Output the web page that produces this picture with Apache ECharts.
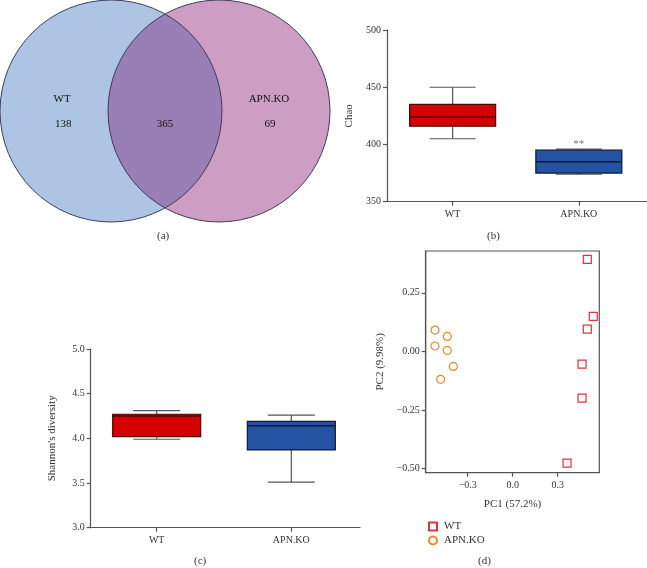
<!DOCTYPE html>
<html><head><meta charset="utf-8">
<script src="https://cdn.jsdelivr.net/npm/echarts@6/dist/echarts.min.js"></script>
<style>html,body{margin:0;padding:0;background:#fff}#c{width:647px;height:568px}</style>
</head><body><div id="c"></div>
<script>
// ---- Data ----
const vennSets = ['WT', 'APN.KO'];
const vennUnique = [138, 69];
const vennShared = 365;

const groups = ['WT', 'APN.KO'];
// [min, Q1, median, Q3, max]
const chaoBox = [[405, 416, 424, 435, 450], [374, 375, 385, 395, 396]];
const chaoSig = ['', '**'];
const chaoTicks = [350, 400, 450, 500];
const shannonBox = [[3.99, 4.02, 4.25, 4.27, 4.31], [3.51, 3.87, 4.14, 4.19, 4.26]];
const shannonTicks = [3.0, 3.5, 4.0, 4.5, 5.0];

const pcaWT = [[0.497, 0.392], [0.537, 0.149], [0.497, 0.095], [0.462, -0.054], [0.462, -0.199], [0.362, -0.476]];
const pcaKO = [[-0.518, 0.091], [-0.436, 0.064], [-0.518, 0.023], [-0.436, 0.004], [-0.396, -0.064], [-0.48, -0.119]];
const pcXTicks = [-0.3, 0, 0.3];
const pcYTicks = [-0.5, -0.25, 0, 0.25];

// ---- Styles ----
const FONT = '"Liberation Serif", "DejaVu Serif", serif';
const AX = '#555';
const boxColors = [
  {fill: '#d50000', stroke: '#4a0808', median: '#5a0000'},
  {fill: '#2453a3', stroke: '#0c1a36', median: '#0c1a36'}
];
const chart = echarts.init(document.getElementById('c'));

function boxRender(boxW, capW, sig) {
  return function (params, api) {
    const i = api.value(0);
    const p = k => api.coord([i, api.value(k)]);
    const pmin = p(1), pq1 = p(2), pmed = p(3), pq3 = p(4), pmax = p(5);
    const cx = pmin[0];
    const c = boxColors[i];
    const ln = {stroke: AX, lineWidth: 1.2};
    const children = [
      {type: 'line', shape: {x1: cx, y1: pq3[1], x2: cx, y2: pmax[1]}, style: ln},
      {type: 'line', shape: {x1: cx, y1: pq1[1], x2: cx, y2: pmin[1]}, style: ln},
      {type: 'line', shape: {x1: cx - capW / 2, y1: pmax[1], x2: cx + capW / 2, y2: pmax[1]}, style: ln},
      {type: 'line', shape: {x1: cx - capW / 2, y1: pmin[1], x2: cx + capW / 2, y2: pmin[1]}, style: ln},
      {type: 'rect', shape: {x: cx - boxW / 2, y: pq3[1], width: boxW, height: pq1[1] - pq3[1]},
        style: {fill: c.fill, stroke: c.stroke, lineWidth: 1.2}},
      {type: 'line', shape: {x1: cx - boxW / 2, y1: pmed[1], x2: cx + boxW / 2, y2: pmed[1]},
        style: {stroke: c.median, lineWidth: 1.5}}
    ];
    if (sig && sig[i]) {
      children.push({type: 'text', style: {text: sig[i], x: cx, y: pmax[1] + 1, textAlign: 'center',
        textVerticalAlign: 'bottom', fill: '#777', font: '11px ' + FONT}});
    }
    return {type: 'group', children};
  };
}

function vennRender(params, api) {
  const cs = params.coordSys;
  const r = cs.height / 2;
  const cy = cs.y + r;
  const cx1 = cs.x + r, cx2 = cs.x + cs.width - r;
  const a = (cx2 - cx1) / 2, mx = (cx1 + cx2) / 2;
  const h = Math.sqrt(r * r - a * a);
  const th = Math.atan2(h, a);
  const pts = [];
  const N = 80;
  for (let k = 0; k <= N; k++) {
    const t = -th + 2 * th * k / N;
    pts.push([cx1 + r * Math.cos(t), cy + r * Math.sin(t)]);
  }
  for (let k = 0; k <= N; k++) {
    const t = Math.PI - th + 2 * th * k / N;
    pts.push([cx2 + r * Math.cos(t), cy + r * Math.sin(t)]);
  }
  const txt = (s, x, y) => ({type: 'text', style: {text: s, x, y, textAlign: 'center', textVerticalAlign: 'middle',
    fill: '#111', font: '11px ' + FONT}});
  return {type: 'group', children: [
    {type: 'circle', shape: {cx: cx1, cy, r}, style: {fill: '#aec4e4'}},
    {type: 'circle', shape: {cx: cx2, cy, r}, style: {fill: '#cd9dc4'}},
    {type: 'polygon', shape: {points: pts}, style: {fill: '#9a7eb6'}},
    {type: 'circle', shape: {cx: cx1, cy, r}, style: {fill: 'none', stroke: '#3c3d5c', lineWidth: 1}},
    {type: 'circle', shape: {cx: cx2, cy, r}, style: {fill: 'none', stroke: '#3c3d5c', lineWidth: 1}},
    txt(vennSets[0], cx1 - 0.44 * r, cy - 12),
    txt(String(vennUnique[0]), cx1 - 0.43 * r, cy + 13),
    txt(String(vennShared), mx, cy + 13),
    txt(vennSets[1], cx2 + 0.45 * r, cy - 12),
    txt(String(vennUnique[1]), cx2 + 0.46 * r, cy + 13)
  ]};
}

const lbl = {color: '#333', fontFamily: FONT, fontSize: 10};
const axLine = {show: true, onZero: false, lineStyle: {color: AX, width: 1.2}};
const axTick = {show: true, length: 4, lineStyle: {color: AX, width: 1.2}};
const minus = s => s.replace('-', '\u2212');

const option = {
  backgroundColor: '#fff',
  animation: false,
  grid: [
    {left: 0, top: 0, width: 330, height: 222},
    {left: 387, top: 30, width: 260, height: 171.7},
    {left: 90.7, top: 349, width: 269.3, height: 178.7},
    {left: 425.7, top: 251, width: 173.6, height: 221.7, show: true, borderColor: AX, borderWidth: 1.2, backgroundColor: 'transparent'}
  ],
  xAxis: [
    {gridIndex: 0, type: 'value', min: 0, max: 1, show: false},
    {gridIndex: 1, type: 'value', min: -0.52, max: 1.54, axisLine: axLine, splitLine: {show: false},
      axisTick: Object.assign({customValues: [0, 1]}, axTick),
      axisLabel: Object.assign({customValues: [0, 1], margin: 8, formatter: v => groups[Math.round(v)]}, lbl)},
    {gridIndex: 2, type: 'value', min: -0.49, max: 1.51, axisLine: axLine, splitLine: {show: false},
      axisTick: Object.assign({customValues: [0, 1]}, axTick),
      axisLabel: Object.assign({customValues: [0, 1], margin: 8, formatter: v => groups[Math.round(v)]}, lbl)},
    {gridIndex: 3, type: 'value', min: -0.58, max: 0.577, axisLine: axLine, splitLine: {show: false},
      axisTick: Object.assign({customValues: pcXTicks}, axTick),
      axisLabel: Object.assign({customValues: pcXTicks, margin: 8, formatter: v => minus(v.toFixed(1))}, lbl),
      name: 'PC1 (57.2%)', nameLocation: 'middle', nameGap: 26, nameTextStyle: {color: '#333', fontFamily: FONT, fontSize: 11}}
  ],
  yAxis: [
    {gridIndex: 0, type: 'value', min: 0, max: 1, show: false},
    {gridIndex: 1, type: 'value', min: chaoTicks[0], max: chaoTicks[chaoTicks.length - 1], interval: 50,
      axisLine: axLine, axisTick: axTick, splitLine: {show: false},
      axisLabel: Object.assign({margin: 6}, lbl),
      name: 'Chao', nameLocation: 'middle', nameGap: 32, nameTextStyle: {color: '#333', fontFamily: FONT, fontSize: 11}},
    {gridIndex: 2, type: 'value', min: shannonTicks[0], max: shannonTicks[shannonTicks.length - 1], interval: 0.5,
      axisLine: axLine, axisTick: axTick, splitLine: {show: false},
      axisLabel: Object.assign({margin: 6, formatter: v => v.toFixed(1)}, lbl),
      name: "Shannon's diversity", nameLocation: 'middle', nameGap: 33, nameTextStyle: {color: '#333', fontFamily: FONT, fontSize: 11}},
    {gridIndex: 3, type: 'value', min: -0.517, max: 0.428, axisLine: axLine, splitLine: {show: false},
      axisTick: Object.assign({customValues: pcYTicks}, axTick),
      axisLabel: Object.assign({customValues: pcYTicks, margin: 6, formatter: v => minus(v.toFixed(2))}, lbl),
      name: 'PC2 (9.98%)', nameLocation: 'middle', nameGap: 40, nameTextStyle: {color: '#333', fontFamily: FONT, fontSize: 11}}
  ],
  legend: {
    data: ['WT', 'APN.KO'], orient: 'vertical', left: 423, top: 516, itemWidth: 8, itemHeight: 8, itemGap: 3,
    textStyle: {color: '#333', fontFamily: FONT, fontSize: 11, padding: [0, 0, 0, 2]}
  },
  series: [
    {type: 'custom', xAxisIndex: 0, yAxisIndex: 0, data: [[0.5, 0.5]], renderItem: vennRender, silent: true},
    {type: 'custom', xAxisIndex: 1, yAxisIndex: 1, encode: {x: 0, y: [1, 2, 3, 4, 5]},
      data: chaoBox.map((b, i) => [i].concat(b)), renderItem: boxRender(86, 46, chaoSig)},
    {type: 'custom', xAxisIndex: 2, yAxisIndex: 2, encode: {x: 0, y: [1, 2, 3, 4, 5]},
      data: shannonBox.map((b, i) => [i].concat(b)), renderItem: boxRender(88, 47, null)},
    {name: 'WT', type: 'scatter', xAxisIndex: 3, yAxisIndex: 3, data: pcaWT, symbol: 'rect', symbolSize: 8,
      itemStyle: {color: '#fff', borderColor: '#e0323c', borderWidth: 1.2, opacity: 1}},
    {name: 'APN.KO', type: 'scatter', xAxisIndex: 3, yAxisIndex: 3, data: pcaKO, symbol: 'circle', symbolSize: 8,
      itemStyle: {color: '#fff', borderColor: '#e58a2c', borderWidth: 1.2, opacity: 1}}
  ],
  graphic: [
    {type: 'text', left: 157, top: 231, style: {text: '(a)', font: '11px ' + FONT, fill: '#333'}},
    {type: 'text', left: 487, top: 231, style: {text: '(b)', font: '11px ' + FONT, fill: '#333'}},
    {type: 'text', left: 194, top: 556, style: {text: '(c)', font: '11px ' + FONT, fill: '#333'}},
    {type: 'text', left: 478, top: 556, style: {text: '(d)', font: '11px ' + FONT, fill: '#333'}}
  ]
};
chart.setOption(option);
</script>
</body></html>
